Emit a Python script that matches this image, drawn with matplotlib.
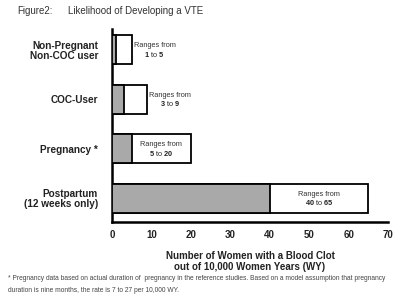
import matplotlib.pyplot as plt

plt.rcParams['font.family'] = ['Liberation Sans', 'DejaVu Sans']
plt.rcParams['mathtext.fontset'] = 'custom'
plt.rcParams['mathtext.rm'] = 'Liberation Sans'
plt.rcParams['mathtext.bf'] = 'Liberation Sans:bold'

# dados
categorias = ["Non-Pregnant\nNon-COC user", "COC-User", "Pregnancy *", "Postpartum\n(12 weeks only)"]
minimo = [1, 3, 5, 40]
maximo = [5, 9, 20, 65]
# texto dentro da barra (True) ou a direita (False)
dentro = [False, False, True, True]

fig = plt.figure(figsize=(4, 3.05), dpi=100)
ax = fig.add_axes([0.28, 0.272, 0.69, 0.633])

y = range(len(categorias))
ax.barh(y, maximo, height=0.58, color="white", edgecolor="black", linewidth=1.3, zorder=2)
ax.barh(y, minimo, height=0.58, color="#a9a9a9", edgecolor="black", linewidth=1.3, zorder=3)

for i in y:
    if dentro[i]:
        xc = (minimo[i] + maximo[i]) / 2
    else:
        xc = maximo[i] + 5.8
    ax.text(xc, i - 0.08, "Ranges from", ha="center", va="center", fontsize=5.3, color="#333333")
    ax.text(xc, i + 0.09, rf"$\mathbf{{{minimo[i]}}}$ to $\mathbf{{{maximo[i]}}}$",
            ha="center", va="center", fontsize=5.3, color="#222222")

ax.set_xlim(0, 70)
ax.set_ylim(3.48, -0.42)
ax.set_yticks(list(y))
ax.set_yticklabels(categorias, fontsize=7.2, fontweight="bold", color="#222222", linespacing=1.0)
ax.set_xticks(range(0, 71, 10))
ax.tick_params(axis="x", length=0, labelsize=7, pad=6, labelcolor="#222222")
ax.tick_params(axis="y", length=0, pad=10)
for lab in ax.get_xticklabels():
    lab.set_fontweight("bold")

ax.spines["top"].set_visible(False)
ax.spines["right"].set_visible(False)
ax.spines["left"].set_linewidth(1.8)
ax.spines["bottom"].set_linewidth(1.8)

ax.set_xlabel("Number of Women with a Blood Clot\nout of 10,000 Women Years (WY)",
              fontsize=7, fontweight="bold", color="#222222", labelpad=8, linespacing=1.1)

fig.text(17/400, 1 - 11/305, "Figure2:", fontsize=7, color="#333333", va="center")
fig.text(68/400, 1 - 11/305, "Likelihood of Developing a VTE", fontsize=7, color="#333333", va="center")

fig.text(8/400, 1 - 279/305,
         "* Pregnancy data based on actual duration of  pregnancy in the reference studies. Based on a model assumption that pregnancy",
         fontsize=4.8, color="#444444", va="center")
fig.text(8/400, 1 - 291/305, "duration is nine months, the rate is 7 to 27 per 10,000 WY.",
         fontsize=4.8, color="#444444", va="center")

fig.savefig("out.png", dpi=100)
